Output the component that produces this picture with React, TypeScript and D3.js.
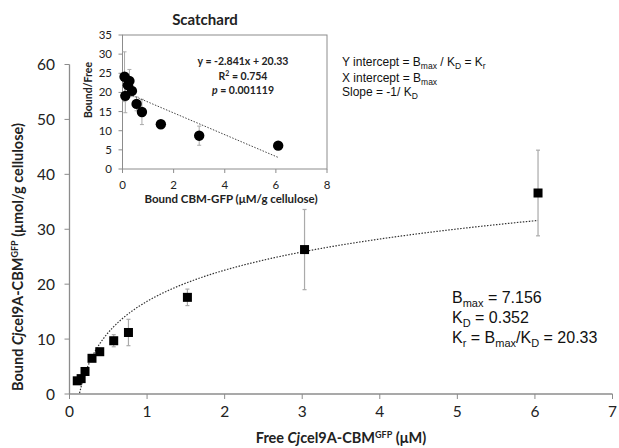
import { useRef, useEffect } from "react";
import * as d3 from "d3";

// main binding curve: free vs bound
const freeConc = [0.1, 0.15, 0.2, 0.29, 0.39, 0.57, 0.76, 1.52, 3.03, 6.04];
const boundAmt = [2.4, 2.8, 4.1, 6.5, 7.7, 9.7, 11.2, 17.6, 26.3, 36.6];
const boundErr = [0.4, 0.4, 0.5, 0.5, 0.6, 1.1, 2.4, 1.5, 7.3, 7.8];
const mainXTicks = [0, 1, 2, 3, 4, 5, 6, 7];
const mainYTicks = [0, 10, 20, 30, 40, 50, 60];
// log trendline y = a*ln(x) + b
const logTrend = { a: 8.19, b: 16.87 };

// scatchard inset
const scBound = [0.08, 0.11, 0.21, 0.27, 0.37, 0.55, 0.76, 1.5, 3.0, 6.09];
const scRatio = [24.1, 19.1, 21.9, 23.0, 20.4, 17.0, 14.9, 11.7, 8.7, 6.1];
const scErr = [6.5, 4.4, 2.0, 3.0, 1.5, 1.8, 3.3, 0.6, 2.5, 0.8];
const scXTicks = [0, 2, 4, 6, 8];
const scYTicks = [0, 5, 10, 15, 20, 25, 30, 35];
const scTrend = { slope: -2.841, intercept: 20.33 };

const tickFont = "Lato, 'Open Sans', sans-serif";
const arial = "'Liberation Sans', Arial, sans-serif";

export default function App() {
  const ref = useRef<SVGSVGElement>(null);

  useEffect(() => {
    const svg = d3.select(ref.current);
    svg.selectAll("*").remove();

    const axisColor = "#8c8c8c";

    // --- main scales ---
    const x = d3.scaleLinear().domain([0, 7]).range([69.5, 612.5]);
    const y = d3.scaleLinear().domain([0, 60]).range([394, 64.5]);

    const main = svg.append("g");

    main.append("clipPath").attr("id", "mainClip")
      .append("rect")
      .attr("x", x(0)).attr("y", y(60))
      .attr("width", x(7) - x(0)).attr("height", y(0) - y(60));

    // axes
    main.append("line")
      .attr("x1", x(0)).attr("x2", x(0)).attr("y1", y(0)).attr("y2", y(60))
      .attr("stroke", axisColor).attr("stroke-width", 1.3);
    main.append("line")
      .attr("x1", x(0)).attr("x2", x(7)).attr("y1", y(0)).attr("y2", y(0))
      .attr("stroke", axisColor).attr("stroke-width", 1.3);

    mainYTicks.forEach((t) => {
      main.append("line")
        .attr("x1", x(0) - 5).attr("x2", x(0)).attr("y1", y(t)).attr("y2", y(t))
        .attr("stroke", axisColor);
      main.append("text")
        .attr("x", 55).attr("y", y(t) + 5.5)
        .attr("text-anchor", "end")
        .style("font-family", tickFont).style("font-size", "15.5px")
        .attr("fill", "#222")
        .text(t);
    });
    mainXTicks.forEach((t) => {
      main.append("line")
        .attr("x1", x(t)).attr("x2", x(t)).attr("y1", y(0)).attr("y2", y(0) + 5)
        .attr("stroke", axisColor);
      main.append("text")
        .attr("x", x(t)).attr("y", 417)
        .attr("text-anchor", "middle")
        .style("font-family", tickFont).style("font-size", "15.5px")
        .attr("fill", "#222")
        .text(t);
    });

    // trendline (log)
    const trendXs = d3.range(0.1, 6.04, 0.01).concat([6.04]);
    main.append("path")
      .attr("clip-path", "url(#mainClip)")
      .attr("d", d3.line<number>()
        .x((v) => x(v))
        .y((v) => y(logTrend.a * Math.log(v) + logTrend.b))(trendXs))
      .attr("fill", "none")
      .attr("stroke", "#333")
      .attr("stroke-width", 1.2)
      .attr("stroke-dasharray", "1.5,1.5");

    // error bars
    freeConc.forEach((fx, i) => {
      const lo = y(boundAmt[i] - boundErr[i]);
      const hi = y(boundAmt[i] + boundErr[i]);
      const eg = main.append("g").attr("stroke", "#aaa").attr("stroke-width", 1.2);
      eg.append("line").attr("x1", x(fx)).attr("x2", x(fx)).attr("y1", lo).attr("y2", hi);
      eg.append("line").attr("x1", x(fx) - 2).attr("x2", x(fx) + 2).attr("y1", lo).attr("y2", lo);
      eg.append("line").attr("x1", x(fx) - 2).attr("x2", x(fx) + 2).attr("y1", hi).attr("y2", hi);
    });

    // squares
    main.selectAll("rect.pt")
      .data(freeConc)
      .join("rect")
      .attr("class", "pt")
      .attr("x", (d) => x(d) - 4.5)
      .attr("y", (d, i) => y(boundAmt[i]) - 4.5)
      .attr("width", 9).attr("height", 9)
      .attr("fill", "#000");

    // axis titles
    const xt = main.append("text")
      .attr("x", 341).attr("y", 443)
      .attr("text-anchor", "middle")
      .style("font-family", tickFont).style("font-size", "14.5px")
      .style("font-weight", "bold")
      .attr("fill", "#222");
    xt.append("tspan").text("Free ");
    xt.append("tspan").style("font-style", "italic").text("Cj");
    xt.append("tspan").text("cel9A-CBM");
    xt.append("tspan").attr("dy", -5).style("font-size", "9px").text("GFP");
    xt.append("tspan").attr("dy", 5).text(" (μM)");

    const yt = main.append("text")
      .attr("transform", "translate(23,257) rotate(-90)")
      .attr("text-anchor", "middle")
      .style("font-family", tickFont).style("font-size", "14.5px")
      .style("font-weight", "bold")
      .attr("fill", "#222");
    yt.append("tspan").text("Bound ");
    yt.append("tspan").style("font-style", "italic").text("Cj");
    yt.append("tspan").text("cel9A-CBM");
    yt.append("tspan").attr("dy", -5).style("font-size", "9px").text("GFP");
    yt.append("tspan").attr("dy", 5).text(" (μmol/g cellulose)");

    // parameter text (bottom right)
    const params = main.append("g")
      .style("font-family", arial).style("font-size", "16px")
      .attr("fill", "#111");
    const p1 = params.append("text").attr("x", 452).attr("y", 303);
    p1.append("tspan").text("B");
    p1.append("tspan").attr("dy", 4).style("font-size", "11px").text("max");
    p1.append("tspan").attr("dy", -4).text(" = 7.156");
    const p2 = params.append("text").attr("x", 452).attr("y", 323);
    p2.append("tspan").text("K");
    p2.append("tspan").attr("dy", 4).style("font-size", "11px").text("D");
    p2.append("tspan").attr("dy", -4).text(" = 0.352");
    const p3 = params.append("text").attr("x", 452).attr("y", 343);
    p3.append("tspan").text("K");
    p3.append("tspan").attr("dy", 4).style("font-size", "11px").text("r");
    p3.append("tspan").attr("dy", -4).text(" = B");
    p3.append("tspan").attr("dy", 4).style("font-size", "11px").text("max");
    p3.append("tspan").attr("dy", -4).text("/K");
    p3.append("tspan").attr("dy", 4).style("font-size", "11px").text("D");
    p3.append("tspan").attr("dy", -4).text(" = 20.33");

    // definitions text (top right)
    const defs = main.append("g")
      .style("font-family", arial).style("font-size", "12px")
      .attr("fill", "#111");
    const d1 = defs.append("text").attr("x", 342).attr("y", 66);
    d1.append("tspan").text("Y intercept = B");
    d1.append("tspan").attr("dy", 3).style("font-size", "8.5px").text("max");
    d1.append("tspan").attr("dy", -3).text(" / K");
    d1.append("tspan").attr("dy", 3).style("font-size", "8.5px").text("D");
    d1.append("tspan").attr("dy", -3).text(" = K");
    d1.append("tspan").attr("dy", 3).style("font-size", "8.5px").text("r");
    const d2 = defs.append("text").attr("x", 342).attr("y", 81.5);
    d2.append("tspan").text("X intercept = B");
    d2.append("tspan").attr("dy", 3).style("font-size", "8.5px").text("max");
    const d3t = defs.append("text").attr("x", 342).attr("y", 96);
    d3t.append("tspan").text("Slope = -1/ K");
    d3t.append("tspan").attr("dy", 3).style("font-size", "8.5px").text("D");

    // --- scatchard inset ---
    const sx = d3.scaleLinear().domain([0, 8]).range([122.5, 327]);
    const sy = d3.scaleLinear().domain([0, 35]).range([169, 35]);
    const ins = svg.append("g");

    ins.append("rect")
      .attr("x", sx(0)).attr("y", sy(35))
      .attr("width", sx(8) - sx(0)).attr("height", sy(0) - sy(35))
      .attr("fill", "#fff")
      .attr("stroke", axisColor).attr("stroke-width", 1);

    scYTicks.forEach((t) => {
      ins.append("line")
        .attr("x1", sx(0) - 4).attr("x2", sx(0)).attr("y1", sy(t)).attr("y2", sy(t))
        .attr("stroke", axisColor);
      ins.append("text")
        .attr("x", 112).attr("y", sy(t) + 4)
        .attr("text-anchor", "end")
        .style("font-family", tickFont).style("font-size", "11.5px")
        .attr("fill", "#222")
        .text(t);
    });
    scXTicks.forEach((t) => {
      ins.append("line")
        .attr("x1", sx(t)).attr("x2", sx(t)).attr("y1", sy(0)).attr("y2", sy(0) + 4)
        .attr("stroke", axisColor);
      ins.append("text")
        .attr("x", sx(t)).attr("y", 189)
        .attr("text-anchor", "middle")
        .style("font-family", tickFont).style("font-size", "11.5px")
        .attr("fill", "#222")
        .text(t);
    });

    // error bars
    scBound.forEach((bx, i) => {
      const lo = sy(scRatio[i] - scErr[i]);
      const hi = sy(scRatio[i] + scErr[i]);
      const eg = ins.append("g").attr("stroke", "#aaa").attr("stroke-width", 1);
      eg.append("line").attr("x1", sx(bx)).attr("x2", sx(bx)).attr("y1", lo).attr("y2", hi);
      eg.append("line").attr("x1", sx(bx) - 2).attr("x2", sx(bx) + 2).attr("y1", lo).attr("y2", lo);
      eg.append("line").attr("x1", sx(bx) - 2).attr("x2", sx(bx) + 2).attr("y1", hi).attr("y2", hi);
    });

    // linear trend
    const xMin = d3.min(scBound) as number;
    const xMax = d3.max(scBound) as number;
    ins.append("line")
      .attr("x1", sx(xMin)).attr("y1", sy(scTrend.slope * xMin + scTrend.intercept))
      .attr("x2", sx(xMax)).attr("y2", sy(scTrend.slope * xMax + scTrend.intercept))
      .attr("stroke", "#444").attr("stroke-width", 1)
      .attr("stroke-dasharray", "1.5,1.5");

    ins.selectAll("circle")
      .data(scBound)
      .join("circle")
      .attr("cx", (d) => sx(d))
      .attr("cy", (d, i) => sy(scRatio[i]))
      .attr("r", 5.2)
      .attr("fill", "#000");

    ins.append("text")
      .attr("x", 205).attr("y", 25)
      .attr("text-anchor", "middle")
      .style("font-family", tickFont).style("font-size", "15px")
      .style("font-weight", "bold").attr("fill", "#222")
      .text("Scatchard");

    ins.append("text")
      .attr("transform", "translate(92,90) rotate(-90)")
      .attr("text-anchor", "middle")
      .style("font-family", tickFont).style("font-size", "10.5px")
      .style("font-weight", "bold").attr("fill", "#222")
      .text("Bound/Free");

    ins.append("text")
      .attr("x", 231).attr("y", 203)
      .attr("text-anchor", "middle")
      .style("font-family", tickFont).style("font-size", "11.5px")
      .style("font-weight", "bold").attr("fill", "#222")
      .text("Bound CBM-GFP (μM/g cellulose)");

    const eq = ins.append("g")
      .style("font-family", tickFont).style("font-size", "10.5px")
      .style("font-weight", "bold").attr("fill", "#222")
      .attr("text-anchor", "middle");
    eq.append("text").attr("x", 243).attr("y", 65).text("y = -2.841x + 20.33");
    const r2 = eq.append("text").attr("x", 243).attr("y", 79.5);
    r2.append("tspan").text("R");
    r2.append("tspan").attr("dy", -4).style("font-size", "7px").text("2");
    r2.append("tspan").attr("dy", 4).text(" = 0.754");
    const pv = eq.append("text").attr("x", 243).attr("y", 94);
    pv.append("tspan").style("font-style", "italic").text("p");
    pv.append("tspan").text(" = 0.001119");
  }, []);

  return (
    <svg
      ref={ref}
      width={619}
      height={448}
      style={{ position: "absolute", left: 0, top: 0, background: "#fff" }}
    ></svg>
  );
}
